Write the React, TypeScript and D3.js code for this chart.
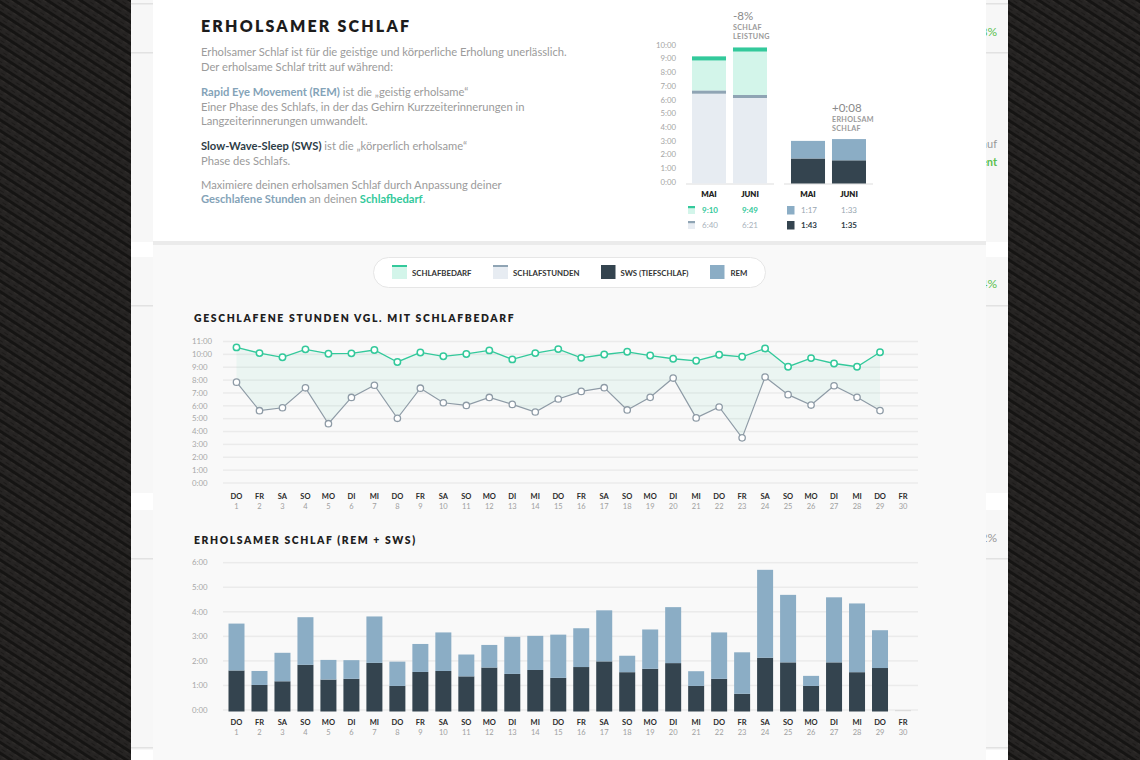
import React from "react";
import * as d3 from "d3";

// ---------- DATA ----------
const months = ["MAI", "JUNI"];
const monthNeed = [9 + 10 / 60, 9 + 49 / 60];
const monthSlept = [6 + 40 / 60, 6 + 21 / 60];
const monthREM = [1 + 17 / 60, 1 + 33 / 60];
const monthSWS = [1 + 43 / 60, 1 + 35 / 60];
const miniTicks = [0, 1, 2, 3, 4, 5, 6, 7, 8, 9, 10];
const leistungDelta = "-8%";
const erholsamDelta = "+0:08";

const dayNumbers = [1, 2, 3, 4, 5, 6, 7, 8, 9, 10, 11, 12, 13, 14, 15, 16, 17, 18, 19, 20, 21, 22, 23, 24, 25, 26, 27, 28, 29, 30];
const weekdays = ["DO", "FR", "SA", "SO", "MO", "DI", "MI", "DO", "FR", "SA", "SO", "MO", "DI", "MI", "DO", "FR", "SA", "SO", "MO", "DI", "MI", "DO", "FR", "SA", "SO", "MO", "DI", "MI", "DO", "FR"];

// Schlafbedarf (hours) days 1..29
const needHours = [10.54, 10.1, 9.77, 10.39, 10.05, 10.08, 10.34, 9.41, 10.15, 9.85, 10.03, 10.31, 9.61, 10.1, 10.41, 9.73, 9.99, 10.2, 9.91, 9.66, 9.5, 9.97, 9.81, 10.46, 9.04, 9.71, 9.29, 9.04, 10.17];
// Geschlafene Stunden days 1..29
const sleptHours = [7.84, 5.62, 5.85, 7.4, 4.61, 6.65, 7.6, 5.03, 7.37, 6.24, 6.03, 6.65, 6.11, 5.52, 6.53, 7.12, 7.41, 5.68, 6.66, 8.16, 5.06, 5.91, 3.51, 8.24, 6.87, 6.06, 7.56, 6.66, 5.63];
const lineTicks = [0, 1, 2, 3, 4, 5, 6, 7, 8, 9, 10, 11];

// Erholsamer Schlaf days 1..30
const swsHours = [1.61, 1.02, 1.17, 1.84, 1.24, 1.27, 1.92, 0.98, 1.55, 1.59, 1.37, 1.73, 1.47, 1.63, 1.31, 1.75, 1.98, 1.54, 1.68, 1.91, 0.98, 1.27, 0.66, 2.13, 1.94, 0.98, 1.94, 1.54, 1.71, 0];
const remHours = [1.91, 0.57, 1.16, 1.94, 0.8, 0.76, 1.89, 0.99, 1.14, 1.57, 0.89, 0.92, 1.51, 1.39, 1.76, 1.58, 2.08, 0.67, 1.6, 2.28, 0.6, 1.89, 1.69, 3.58, 2.75, 0.41, 2.65, 2.8, 1.54, 0];
const barTicks = [0, 1, 2, 3, 4, 5, 6];

// ---------- STYLE ----------
const FONT = "Lato, 'Open Sans', Arial, sans-serif";
const TEAL = "#33c99b";
const MINT = "#d3f5ea";
const SLEPT = "#e7ecf2";
const SLEPT_BAND = "#8fa4b4";
const SWS = "#34444f";
const REM = "#8badc5";
const GRAYLINE = "#8e9ba6";
const TXT = "#9b9b9b";
const BLUE_TXT = "#84a3b8";

const fmt = (h: number) => {
  let hh = Math.floor(h);
  let mm = Math.round((h - hh) * 60);
  if (mm === 60) { hh += 1; mm = 0; }
  return `${hh}:${String(mm).padStart(2, "0")}`;
};

export default function App() {
  // mini charts
  const miniY = d3.scaleLinear().domain([0, 10]).range([182, 45]);
  const mx1 = d3.scaleBand<string>().domain(months).range([692, 767]).paddingInner(0.17);
  const mx2 = d3.scaleBand<string>().domain(months).range([791, 866]).paddingInner(0.17);

  // line chart
  const lx = d3.scaleLinear().domain([1, 30]).range([236.5, 903]);
  const ly = d3.scaleLinear().domain([0, 11]).range([483, 341.5]);
  const lineIdx = d3.range(needHours.length);
  const area = d3.area<number>().x((i) => lx(dayNumbers[i])).y0((i) => ly(sleptHours[i])).y1((i) => ly(needHours[i]));
  const needLine = d3.line<number>().x((i) => lx(dayNumbers[i])).y((i) => ly(needHours[i]));
  const sleptLine = d3.line<number>().x((i) => lx(dayNumbers[i])).y((i) => ly(sleptHours[i]));

  // bar chart
  const by = d3.scaleLinear().domain([0, 6]).range([710, 562.7]);
  const bw = 16;

  const gridX0 = 223, gridX1 = 918;

  const dayLabels = (yW: number, yN: number) =>
    dayNumbers.map((d, i) => (
      <g key={d}>
        <text x={lx(d)} y={yW} textAnchor="middle" fontSize={7.5} fontWeight={700} fill="#2b2b2b">{weekdays[i]}</text>
        <text x={lx(d)} y={yN} textAnchor="middle" fontSize={7.5} fill="#a0a0a0">{d}</text>
      </g>
    ));

  const para = { fontSize: 11.2, fill: TXT };

  return (
    <svg width={1140} height={760} style={{ position: "absolute", left: 0, top: 0 }} fontFamily={FONT}>
      <defs>
        <pattern id="tex" width="9" height="9" patternUnits="userSpaceOnUse" patternTransform="rotate(33)">
          <rect width="9" height="9" fill="#262423" />
          <rect y="0" width="9" height="3" fill="#151413" />
          <rect x="0" y="3" width="4.5" height="1.2" fill="#2f2c2a" />
          <rect x="4.5" y="6" width="4.5" height="1" fill="#1c1a19" />
        </pattern>
        <clipPath id="rclip"><rect x={986} y={0} width={22} height={760} /></clipPath>
      </defs>

      {/* textured background */}
      <rect x={0} y={0} width={1140} height={760} fill="url(#tex)" />
      {/* page */}
      <rect x={131} y={0} width={877} height={760} fill="#f7f7f7" />

      {/* side strips details */}
      {[3, 52, 305, 558, 747].map((y) => (
        <g key={y}>
          <rect x={131} y={y} width={22} height={1.5} fill="#e2e2e2" />
          <rect x={986} y={y} width={22} height={1.5} fill="#e2e2e2" />
        </g>
      ))}
      {[[242, 15], [493, 17], [750, 10]].map(([y, h]) => (
        <g key={y}>
          <rect x={131} y={y} width={22} height={h} fill="#ffffff" />
          <rect x={986} y={y} width={22} height={h} fill="#ffffff" />
        </g>
      ))}
      <g clipPath="url(#rclip)">
        <text x={997} y={36} textAnchor="end" fontSize={12} fill="#5bbf4e">8%</text>
        <text x={997} y={148} textAnchor="end" fontSize={11} fill="#999">auf</text>
        <text x={997} y={166} textAnchor="end" fontSize={11} fontWeight={700} fill="#5bbf4e">ment</text>
        <text x={997} y={288} textAnchor="end" fontSize={12} fill="#5bbf4e">4%</text>
        <text x={997} y={542} textAnchor="end" fontSize={12} fill="#999">2%</text>
      </g>

      {/* main panels */}
      <rect x={153} y={245} width={833} height={515} fill="#f9f9f9" />
      <rect x={153} y={0} width={833} height={241} fill="#ffffff" />
      <rect x={153} y={241} width={833} height={4} fill="#ebebeb" />

      {/* ---------- top text ---------- */}
      <text x={201} y={32} fontSize={16} fontWeight={800} letterSpacing={2.2} fill="#1c1c1c">ERHOLSAMER SCHLAF</text>
      <text x={201} y={56} {...para}>Erholsamer Schlaf ist für die geistige und körperliche Erholung unerlässlich.</text>
      <text x={201} y={71} {...para}>Der erholsame Schlaf tritt auf während:</text>
      <text x={201} y={96} {...para}>
        <tspan fontWeight={700} fill={BLUE_TXT}>Rapid Eye Movement (REM)</tspan>
        <tspan> ist die „geistig erholsame“</tspan>
      </text>
      <text x={201} y={110.5} {...para}>Einer Phase des Schlafs, in der das Gehirn Kurzzeiterinnerungen in</text>
      <text x={201} y={125} {...para}>Langzeiterinnerungen umwandelt.</text>
      <text x={201} y={150} {...para}>
        <tspan fontWeight={700} fill="#2e3d47">Slow-Wave-Sleep (SWS)</tspan>
        <tspan> ist die „körperlich erholsame“</tspan>
      </text>
      <text x={201} y={164.5} {...para}>Phase des Schlafs.</text>
      <text x={201} y={189} {...para}>Maximiere deinen erholsamen Schlaf durch Anpassung deiner</text>
      <text x={201} y={203} {...para}>
        <tspan fontWeight={700} fill={BLUE_TXT}>Geschlafene Stunden</tspan>
        <tspan> an deinen </tspan>
        <tspan fontWeight={700} fill={TEAL}>Schlafbedarf</tspan>
        <tspan>.</tspan>
      </text>

      {/* ---------- mini charts ---------- */}
      {miniTicks.map((t) => (
        <text key={t} x={676} y={miniY(t)} dy="0.35em" textAnchor="end" fontSize={7.8} fill="#a5a5a5">{t}:00</text>
      ))}
      <rect x={686} y={183.5} width={88} height={1} fill="#dedede" />
      <rect x={784} y={183.5} width={89} height={1} fill="#dedede" />
      {months.map((m, i) => {
        const x = mx1(m)!;
        const w = mx1.bandwidth();
        return (
          <g key={"l" + m}>
            <rect x={x} y={miniY(monthSlept[i])} width={w} height={miniY(0) - miniY(monthSlept[i]) + 1.5} fill={SLEPT} />
            <rect x={x} y={miniY(monthNeed[i])} width={w} height={miniY(monthSlept[i]) - miniY(monthNeed[i])} fill={MINT} />
            <rect x={x} y={miniY(monthSlept[i])} width={w} height={3} fill={SLEPT_BAND} />
            <rect x={x} y={miniY(monthNeed[i])} width={w} height={4} fill={TEAL} />
            <text x={x + w / 2} y={197} textAnchor="middle" fontSize={7.8} fontWeight={800} fill="#222">{m}</text>
          </g>
        );
      })}
      {months.map((m, i) => {
        const x = mx2(m)!;
        const w = mx2.bandwidth();
        return (
          <g key={"r" + m}>
            <rect x={x} y={miniY(monthSWS[i])} width={w} height={miniY(0) - miniY(monthSWS[i]) + 1.5} fill={SWS} />
            <rect x={x} y={miniY(monthSWS[i] + monthREM[i])} width={w} height={miniY(monthSWS[i]) - miniY(monthSWS[i] + monthREM[i])} fill={REM} />
            <text x={x + w / 2} y={197} textAnchor="middle" fontSize={7.8} fontWeight={800} fill="#222">{m}</text>
          </g>
        );
      })}
      {/* annotations */}
      <text x={733} y={20} fontSize={11.5} fill="#8a8a8a">{leistungDelta}</text>
      <text x={733} y={30} fontSize={7.2} fontWeight={700} letterSpacing={0.3} fill="#9a9a9a">SCHLAF</text>
      <text x={733} y={39} fontSize={7.2} fontWeight={700} letterSpacing={0.3} fill="#9a9a9a">LEISTUNG</text>
      <text x={832} y={112} fontSize={11.5} fill="#8a8a8a">{erholsamDelta}</text>
      <text x={832} y={121.5} fontSize={7.2} fontWeight={700} letterSpacing={0.3} fill="#9a9a9a">ERHOLSAM</text>
      <text x={832} y={130.5} fontSize={7.2} fontWeight={700} letterSpacing={0.3} fill="#9a9a9a">SCHLAF</text>

      {/* mini legends / values */}
      <rect x={688} y={206} width={7} height={8} fill={MINT} />
      <rect x={688} y={206} width={7} height={2.2} fill={TEAL} />
      <rect x={688} y={221} width={7} height={8} fill={SLEPT} />
      <rect x={688} y={221} width={7} height={2.2} fill={SLEPT_BAND} />
      <text x={702} y={213} fontSize={8} fontWeight={700} fill={TEAL}>{fmt(monthNeed[0])}</text>
      <text x={mx1("JUNI")! + mx1.bandwidth() / 2} y={213} textAnchor="middle" fontSize={8} fontWeight={700} fill={TEAL}>{fmt(monthNeed[1])}</text>
      <text x={702} y={228} fontSize={8} fill="#a8b2bb">{fmt(monthSlept[0])}</text>
      <text x={mx1("JUNI")! + mx1.bandwidth() / 2} y={228} textAnchor="middle" fontSize={8} fill="#a8b2bb">{fmt(monthSlept[1])}</text>

      <rect x={787} y={206} width={7.5} height={8.5} fill={REM} />
      <rect x={787} y={221} width={7.5} height={8.5} fill={SWS} />
      <text x={801} y={213} fontSize={8} fill="#98a6b1">{fmt(monthREM[0])}</text>
      <text x={mx2("JUNI")! + mx2.bandwidth() / 2} y={213} textAnchor="middle" fontSize={8} fill="#98a6b1">{fmt(monthREM[1])}</text>
      <text x={801} y={228} fontSize={8} fontWeight={700} fill="#2e3d47">{fmt(monthSWS[0])}</text>
      <text x={mx2("JUNI")! + mx2.bandwidth() / 2} y={228} textAnchor="middle" fontSize={8} fontWeight={700} fill="#2e3d47">{fmt(monthSWS[1])}</text>

      {/* ---------- legend pill ---------- */}
      <rect x={373.5} y={257.5} width={392} height={30} rx={15} fill="#ffffff" stroke="#e6e6e6" />
      <rect x={392} y={265} width={15} height={14} fill={MINT} />
      <rect x={392} y={265} width={15} height={2} fill={TEAL} />
      <text x={412} y={276} fontSize={7.8} fontWeight={700} fill="#333">SCHLAFBEDARF</text>
      <rect x={493} y={265} width={15} height={14} fill={SLEPT} />
      <rect x={493} y={265} width={15} height={2} fill={SLEPT_BAND} />
      <text x={513} y={276} fontSize={7.8} fontWeight={700} fill="#333">SCHLAFSTUNDEN</text>
      <rect x={601} y={265} width={14.5} height={14} fill={SWS} />
      <text x={620.5} y={276} fontSize={7.8} fontWeight={700} fill="#333">SWS (TIEFSCHLAF)</text>
      <rect x={710} y={265} width={14.5} height={14} fill={REM} />
      <text x={730.5} y={276} fontSize={7.8} fontWeight={700} fill="#333">REM</text>

      {/* ---------- line chart ---------- */}
      <text x={194} y={322} fontSize={10.4} fontWeight={800} letterSpacing={1.65} fill="#1f1f1f">GESCHLAFENE STUNDEN VGL. MIT SCHLAFBEDARF</text>
      {lineTicks.map((t) => (
        <g key={t}>
          <rect x={gridX0} y={ly(t) - 0.75} width={gridX1 - gridX0} height={1.5} fill="#ebebeb" />
          <text x={192} y={ly(t)} dy="0.35em" fontSize={7.8} fill="#a8a8a8">{t}:00</text>
        </g>
      ))}
      <path d={area(lineIdx)!} fill={TEAL} fillOpacity={0.07} />
      <path d={sleptLine(lineIdx)!} fill="none" stroke={GRAYLINE} strokeWidth={1.2} />
      <path d={needLine(lineIdx)!} fill="none" stroke={TEAL} strokeWidth={1.3} />
      {lineIdx.map((i) => (
        <g key={i}>
          <circle cx={lx(dayNumbers[i])} cy={ly(sleptHours[i])} r={3.2} fill="#fff" stroke={GRAYLINE} strokeWidth={1.3} />
          <circle cx={lx(dayNumbers[i])} cy={ly(needHours[i])} r={3.2} fill="#fff" stroke={TEAL} strokeWidth={1.5} />
        </g>
      ))}
      {dayLabels(499, 508.5)}

      {/* ---------- bar chart ---------- */}
      <text x={194} y={544} fontSize={10.4} fontWeight={800} letterSpacing={1.6} fill="#1f1f1f">ERHOLSAMER SCHLAF (REM + SWS)</text>
      {barTicks.map((t) => (
        <g key={t}>
          <rect x={gridX0} y={by(t) - 0.75} width={gridX1 - gridX0} height={1.5} fill="#ebebeb" />
          <text x={192} y={by(t)} dy="0.35em" fontSize={7.8} fill="#a8a8a8">{t}:00</text>
        </g>
      ))}
      {dayNumbers.map((d, i) => {
        const x = lx(d) - bw / 2;
        const tot = swsHours[i] + remHours[i];
        if (tot === 0) {
          return <rect key={d} x={x} y={by(0)} width={bw} height={1.2} fill="#dcdcdc" />;
        }
        return (
          <g key={d}>
            <rect x={x} y={by(swsHours[i])} width={bw} height={by(0) - by(swsHours[i]) + 1.5} fill={SWS} />
            <rect x={x} y={by(tot)} width={bw} height={by(swsHours[i]) - by(tot)} fill={REM} />
          </g>
        );
      })}
      {dayLabels(724.5, 734.5)}
    </svg>
  );
}
